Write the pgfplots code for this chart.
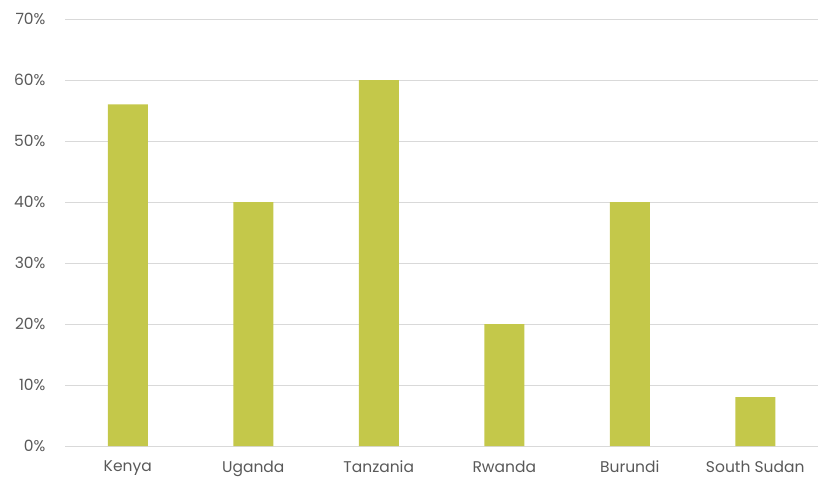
\documentclass[border=0pt]{standalone}
\usepackage{pgfplots}
\pgfplotsset{compat=1.18}
\usepackage{fontspec}
\setmainfont{Poppins}
\definecolor{barc}{HTML}{C4C84A}
\definecolor{gridc}{HTML}{D9D9D9}
\definecolor{txt}{HTML}{595959}
\begin{document}
\begin{tikzpicture}
\begin{axis}[
  scale only axis,
  width=753pt, height=427pt,
  xmin=-0.5, xmax=5.5,
  ymin=0, ymax=70,
  ytick={0,10,...,70},
  xtick={0,...,5},
  xticklabels={Kenya,Uganda,Tanzania,Rwanda,Burundi,South Sudan},
  yticklabel={\pgfmathprintnumber{\tick}\%},
  /pgf/number format/assume math mode=true,
  axis line style={draw=none},
  major tick length=0pt,
  ymajorgrids, grid style={gridc, line width=1pt},
  ticklabel style={font=\fontsize{15.5}{18}\selectfont, text=txt},
  yticklabel style={xshift=-16pt},
  xticklabel style={yshift=-11pt},
]
\addplot[ybar, bar width=40pt, fill=barc, draw=none] coordinates {
(0,56) (1,40) (2,60) (3,20) (4,40) (5,8)};
\end{axis}
\pgfresetboundingbox
\path (current axis.south west) ++(-65pt,-33pt) rectangle ++(818pt,479pt);
\end{tikzpicture}
\end{document}
